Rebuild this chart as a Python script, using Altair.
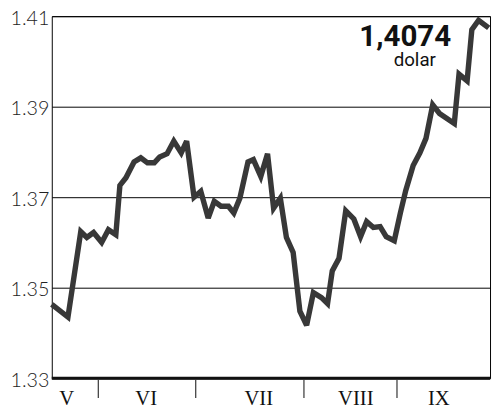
import altair as alt
import pandas as pd

# Trading-day position (index units) and EUR/USD value
day = [0, 2.4, 4.3, 5.2, 6.2, 7.4, 8.4, 9.5, 10.1, 11.0, 12.2, 13.2, 14.2, 15.2, 16.0,
       17.1, 18.1, 19.2, 20.0, 21.1, 22.1, 23.2, 24.1, 25.1, 26.2, 27.0, 27.9, 29.1,
       29.9, 31.0, 32.0, 32.9, 33.9, 34.8, 35.8, 36.8, 37.8, 38.8, 40.0, 40.9, 41.6,
       42.6, 43.6, 44.8, 45.8, 46.7, 47.7, 48.7, 49.6, 50.8, 51.7, 52.5, 53.6, 54.6,
       55.5, 56.5, 57.5, 59.7, 60.4, 61.6, 62.3, 63.3, 64.8]
value = [1.3463, 1.3435, 1.3624, 1.3611, 1.3622, 1.3600, 1.3628, 1.3617, 1.3726,
         1.3743, 1.3778, 1.3787, 1.3776, 1.3776, 1.3789, 1.3796, 1.3824, 1.3798,
         1.3824, 1.3700, 1.3713, 1.3654, 1.3691, 1.3680, 1.3680, 1.3665, 1.3698,
         1.3778, 1.3783, 1.3746, 1.3796, 1.3676, 1.3698, 1.3611, 1.3578, 1.3448,
         1.3417, 1.3489, 1.3478, 1.3465, 1.3537, 1.3565, 1.3670, 1.3652, 1.3613,
         1.3646, 1.3633, 1.3635, 1.3613, 1.3604, 1.3665, 1.3715, 1.3770, 1.3798,
         1.3830, 1.3904, 1.3885, 1.3863, 1.3972, 1.3957, 1.4070, 1.4091, 1.4074]

months = ["V", "VI", "VII", "VIII", "IX"]
month_label_pos = [2.2, 14.0, 30.7, 45.1, 57.4]
month_breaks = [6.9, 21.35, 37.4, 51.2]

y_ticks = [1.33, 1.35, 1.37, 1.39, 1.41]
last_value_text = "1,4074"
unit_text = "dolar"

W, H = 445.5, 368

df = pd.DataFrame({"day": day, "value": value})
mdf = pd.DataFrame({"m": months, "pos": month_label_pos})
bdf = pd.DataFrame({"pos": month_breaks})

xs = alt.Scale(domain=[0, 65], nice=False, zero=False)
ys = alt.Scale(domain=[1.33, 1.41], nice=False, zero=False)

line = alt.Chart(df).mark_line(color="#383838", strokeWidth=5.5,
                               strokeJoin="miter", strokeMiterLimit=3).encode(
    x=alt.X("day:Q", scale=xs, axis=None),
    y=alt.Y("value:Q", scale=ys, axis=alt.Axis(
        values=y_ticks, title=None, ticks=False, domain=False,
        grid=True, gridColor="#000000", gridWidth=1, gridOpacity=1,
        labelFont="Lato", labelFontSize=20, labelFontWeight=300,
        labelColor="#222222", labelPadding=3, labelOffset=2,
        labelExpr="format(datum.value, '.2f')")),
)

bottom = alt.Chart(pd.DataFrame({"v": [1.33]})).mark_rule(
    color="#111111", strokeWidth=3).encode(y=alt.Y("v:Q", scale=ys))

breaks = alt.Chart(bdf).mark_rule(color="#333333", strokeWidth=1.2).encode(
    x=alt.X("pos:Q", scale=xs),
    y=alt.value(H + 1), y2=alt.value(H + 20))

mlabels = alt.Chart(mdf).mark_text(
    font="Liberation Serif", fontSize=21, color="#111111",
    align="center", baseline="alphabetic").encode(
    x=alt.X("pos:Q", scale=xs), y=alt.value(H + 27), text="m:N")

big = alt.Chart(pd.DataFrame({"t": [last_value_text]})).mark_text(
    font="Roboto", fontSize=30, fontWeight="bold", color="#111111",
    align="right", baseline="alphabetic").encode(
    x=alt.value(406), y=alt.value(30), text="t:N")

unit = alt.Chart(pd.DataFrame({"t": [unit_text]})).mark_text(
    font="Roboto", fontSize=19, color="#111111",
    align="center", baseline="alphabetic").encode(
    x=alt.value(369), y=alt.value(51), text="t:N")

chart = alt.layer(line, bottom, breaks, mlabels, big, unit).properties(
    width=W, height=H,
    autosize=alt.AutoSizeParams(type="none"),
    padding={"left": 44.5, "top": 5, "right": 2, "bottom": 30},
    background="white",
).configure_view(stroke="#000000", strokeWidth=1)

chart.save("out.html", embed_options={"renderer": "svg", "actions": False})
